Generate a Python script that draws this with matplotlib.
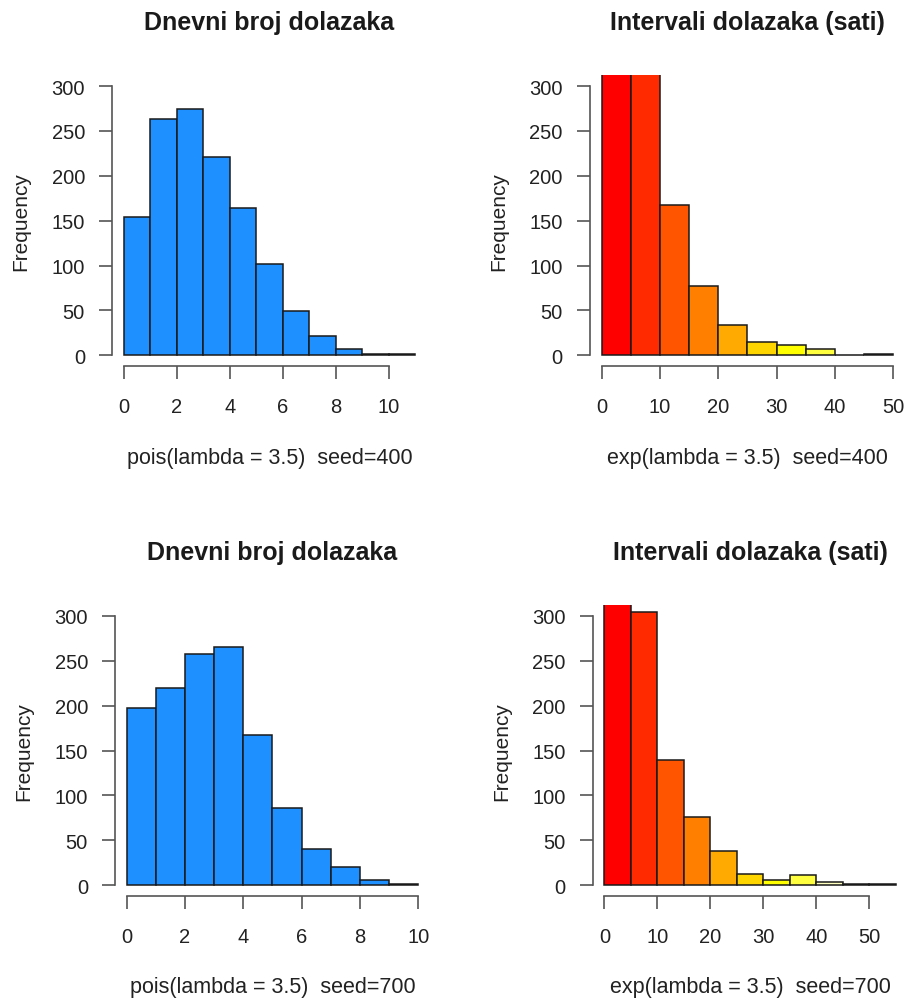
import numpy as np
import matplotlib
matplotlib.use("Agg")
import matplotlib.pyplot as plt

plt.rcParams['font.family'] = ['Liberation Sans', 'DejaVu Sans']

# daily arrivals (poisson) - bin edges are integers
pois_400_edges = [0, 1, 2, 3, 4, 5, 6, 7, 8, 9, 10, 11]
pois_400_counts = [154, 263, 274, 221, 164, 102, 49, 21, 7, 1, 1]
pois_700_edges = [0, 1, 2, 3, 4, 5, 6, 7, 8, 9, 10]
pois_700_counts = [197, 220, 257, 265, 167, 86, 40, 20, 6, 1]

# inter-arrival times in hours (first bars go past the top of the plot)
exp_400_edges = [0, 5, 10, 15, 20, 25, 30, 35, 40, 45, 50]
exp_400_counts = [700, 345, 168, 77, 34, 15, 11, 7, 0, 1]
exp_700_edges = [0, 5, 10, 15, 20, 25, 30, 35, 40, 45, 50, 55]
exp_700_counts = [640, 304, 140, 76, 38, 13, 6, 11, 4, 1, 1]

yticks = [0, 50, 100, 150, 200, 250, 300]
pois_400_xticks = [0, 2, 4, 6, 8, 10]
pois_700_xticks = [0, 2, 4, 6, 8, 10]
exp_400_xticks = [0, 10, 20, 30, 40, 50]
exp_700_xticks = [0, 10, 20, 30, 40, 50]

blue = '#1E90FF'
heat = ['#FF0000', '#FF2A00', '#FF5500', '#FF8000', '#FFAA00',
        '#FFD500', '#FFFF00', '#FFFF40', '#FFFFBF']

title_pois = 'Dnevni broj dolazaka'
title_exp = 'Intervali dolazaka (sati)'

fig = plt.figure(figsize=(9.09, 10.03), dpi=100)


def panel(rect, edges, counts, xticks, colors, title, sub):
    ax = fig.add_axes(rect)
    edges = np.array(edges)
    w = edges[1] - edges[0]
    cols = [colors[i % len(colors)] for i in range(len(counts))]
    ax.bar(edges[:-1], counts, width=w, align='edge', color=cols,
           edgecolor='#1a1a1a', linewidth=1.1)
    rng = edges[-1] - edges[0]
    ax.set_xlim(edges[0] - 0.04 * rng, edges[-1] + 0.04 * rng)
    ax.set_ylim(-12, 312)
    for s in ['top', 'right']:
        ax.spines[s].set_visible(False)
    ax.spines['left'].set_bounds(0, 300)
    ax.spines['bottom'].set_bounds(xticks[0], xticks[-1])
    for s in ['left', 'bottom']:
        ax.spines[s].set_color('#555555')
        ax.spines[s].set_linewidth(1.2)
    ax.set_yticks(yticks)
    ax.set_xticks(xticks)
    ax.tick_params(direction='out', length=9.5, width=1.2, color='#555555',
                   labelsize=14.5, labelcolor='#222222', pad=10)
    ax.tick_params(axis='x', pad=13)
    ax.set_title(title, fontsize=18, fontweight='bold', color='#1a1a1a', pad=33)
    ax.annotate(sub, xy=(0.5, 0), xycoords='axes fraction', xytext=(0, -65.5),
                textcoords='offset points', ha='center', va='center',
                fontsize=15.5, color='#222222')
    ax.annotate('Frequency', xy=(0, 0.5), xycoords='axes fraction',
                xytext=(-65.5, 0), textcoords='offset points', ha='center',
                va='center', rotation=90, fontsize=15, color='#222222')
    return ax


panel([0.1232, 0.634, 0.3465, 0.290], pois_400_edges, pois_400_counts,
      pois_400_xticks, [blue], title_pois, 'pois(lambda = 3.5)  seed=400')
panel([0.649, 0.634, 0.3466, 0.290], exp_400_edges, exp_400_counts,
      exp_400_xticks, heat, title_exp, 'exp(lambda = 3.5)  seed=400')
panel([0.1265, 0.1057, 0.3465, 0.290], pois_700_edges, pois_700_counts,
      pois_700_xticks, [blue], title_pois, 'pois(lambda = 3.5)  seed=700')
panel([0.652, 0.1057, 0.3465, 0.290], exp_700_edges, exp_700_counts,
      exp_700_xticks, heat, title_exp, 'exp(lambda = 3.5)  seed=700')

plt.savefig('out.png', dpi=100)
